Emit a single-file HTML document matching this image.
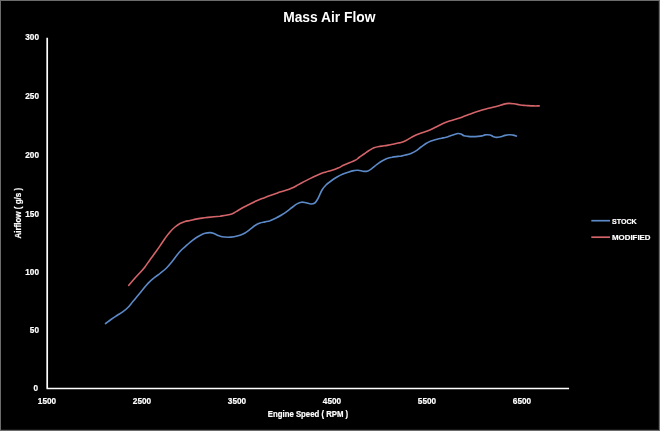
<!DOCTYPE html>
<html><head><meta charset="utf-8"><title>Mass Air Flow</title>
<style>
html,body{margin:0;padding:0;background:#000;}
body{width:660px;height:431px;position:relative;overflow:hidden;font-family:"Liberation Sans",sans-serif;color:#fff;font-weight:bold;}
#frame{position:absolute;left:0;top:0;width:660px;height:431px;box-sizing:border-box;border:1px solid #6c6c6c;box-shadow:inset -1px -1px 0 #161616;}
.t{position:absolute;white-space:nowrap;line-height:1;-webkit-text-stroke:0.2px #fff;}
.yl{font-size:8.7px;text-align:right;width:30px;left:9.2px;transform:scaleX(0.945);transform-origin:100% 50%;}
.xl{font-size:8.7px;text-align:center;width:40px;transform:scaleX(0.945);}
svg{position:absolute;left:0;top:0;}
</style></head><body>
<div id="frame"></div>
<div class="t" id="title" style="left:229.3px;width:200px;text-align:center;top:10.5px;font-size:13.8px;-webkit-text-stroke:0;">Mass Air Flow</div>
<div class="t yl" style="top:33.40px">300</div>
<div class="t yl" style="top:91.85px">250</div>
<div class="t yl" style="top:151.1px">200</div>
<div class="t yl" style="top:209.7px">150</div>
<div class="t yl" style="top:268.0px">100</div>
<div class="t yl" style="top:325.65px">50</div>
<div class="t yl" style="top:384.2px;left:7.9px">0</div>
<div class="t xl" style="left:26.7px;top:396.7px">1500</div>
<div class="t xl" style="left:122.4px;top:396.7px">2500</div>
<div class="t xl" style="left:217.3px;top:396.7px">3500</div>
<div class="t xl" style="left:312.1px;top:396.7px">4500</div>
<div class="t xl" style="left:406.9px;top:396.7px">5500</div>
<div class="t xl" style="left:501.7px;top:396.7px">6500</div>
<div class="t" id="xt" style="left:208.3px;width:200px;text-align:center;top:410.3px;font-size:8.3px;transform:scaleX(0.937);">Engine Speed ( RPM )</div>
<div class="t" id="yt" style="left:-81.7px;width:200px;text-align:center;top:208.9px;font-size:8.4px;transform:rotate(-90deg) scaleX(0.958);transform-origin:50% 50%;">Airflow ( g/s )</div>
<div class="t" id="l1" style="left:611.8px;top:217.7px;font-size:8px;transform:scaleX(0.885);transform-origin:0 0;">STOCK</div>
<div class="t" id="l2" style="left:611.8px;top:233.7px;font-size:8px;transform:scaleX(0.985);transform-origin:0 0;">MODIFIED</div>
<svg width="660" height="431" viewBox="0 0 660 431" fill="none">
<path d="M47.2 37.8V388.5H569.1" stroke="#fff" stroke-width="1.7" stroke-linejoin="round"/>
<line x1="591.3" y1="220.7" x2="610" y2="220.7" stroke="#5c89c7" stroke-width="1.7"/>
<line x1="591.3" y1="237.2" x2="610" y2="237.2" stroke="#d4646a" stroke-width="1.7"/>
<path id="blue" stroke="#5c89c7" stroke-width="1.6" stroke-linecap="round" stroke-linejoin="round" d="M105.5 323.6C106.4 322.9 109.1 320.9 111.0 319.5C112.9 318.1 115.0 316.8 117.0 315.5C119.0 314.2 121.2 313.0 123.0 311.7C124.8 310.4 126.2 309.2 127.9 307.5C129.6 305.8 131.2 303.6 132.9 301.6C134.6 299.6 136.4 297.3 137.9 295.5C139.4 293.7 140.3 292.6 142.0 290.6C143.7 288.6 146.0 285.5 148.0 283.4C150.0 281.3 152.0 279.5 154.0 277.9C156.0 276.2 158.0 275.1 160.0 273.5C162.0 271.9 164.2 270.2 166.0 268.5C167.8 266.8 169.2 265.0 170.9 263.0C172.6 261.0 174.2 258.6 175.9 256.5C177.6 254.4 179.4 252.1 180.9 250.5C182.4 248.9 183.4 248.2 184.9 246.9C186.4 245.6 188.3 243.8 190.0 242.4C191.7 241.0 193.3 239.7 195.0 238.5C196.7 237.3 198.3 236.4 200.0 235.5C201.7 234.6 203.3 233.8 205.0 233.3C206.7 232.8 208.5 232.6 210.0 232.6C211.5 232.6 212.7 233.0 214.0 233.5C215.3 234.0 216.7 234.8 218.0 235.4C219.3 236.0 220.3 236.5 222.0 236.8C223.7 237.1 226.0 237.2 228.0 237.2C230.0 237.2 232.0 237.0 234.0 236.7C236.0 236.4 238.2 235.9 240.0 235.3C241.8 234.7 243.3 234.0 245.0 233.0C246.7 232.0 248.3 230.7 250.0 229.4C251.7 228.2 253.3 226.6 255.0 225.5C256.7 224.4 258.3 223.6 260.0 223.0C261.7 222.4 263.3 222.3 265.0 221.9C266.7 221.5 268.2 221.3 270.0 220.7C271.8 220.0 274.1 218.9 276.0 218.0C277.9 217.1 279.7 216.1 281.5 215.0C283.3 213.9 285.2 212.7 287.0 211.4C288.8 210.2 290.3 208.8 292.0 207.5C293.7 206.2 295.4 204.8 297.0 203.9C298.6 203.0 299.9 202.4 301.4 202.2C302.9 202.0 304.4 202.5 306.0 202.8C307.6 203.1 309.5 204.0 311.0 204.0C312.5 204.0 313.6 203.9 314.8 203.0C316.0 202.1 316.8 200.7 318.0 198.5C319.2 196.3 320.7 192.2 322.0 190.0C323.3 187.8 324.5 186.5 326.0 185.0C327.5 183.5 329.2 182.3 331.0 181.0C332.8 179.7 335.0 178.2 337.0 177.0C339.0 175.8 341.0 174.8 343.0 174.0C345.0 173.2 347.2 172.5 349.0 171.9C350.8 171.3 352.5 170.9 354.0 170.6C355.5 170.3 356.3 170.1 358.0 170.2C359.7 170.3 362.3 171.3 364.0 171.4C365.7 171.5 366.7 171.4 368.0 170.9C369.3 170.4 370.5 169.5 372.0 168.4C373.5 167.3 375.3 165.6 377.0 164.4C378.7 163.2 380.3 162.0 382.0 161.0C383.7 160.0 385.3 159.1 387.0 158.5C388.7 157.9 390.2 157.5 392.0 157.2C393.8 156.8 396.5 156.6 398.0 156.4C399.5 156.2 399.7 156.3 401.0 156.1C402.3 155.8 404.3 155.3 406.0 154.9C407.7 154.5 409.3 154.1 411.0 153.4C412.7 152.7 414.3 152.0 416.0 150.9C417.7 149.8 419.3 148.2 421.0 147.0C422.7 145.8 424.3 144.5 426.0 143.5C427.7 142.5 429.3 141.7 431.0 141.0C432.7 140.3 434.5 139.9 436.0 139.5C437.5 139.1 438.8 138.8 440.0 138.5C441.2 138.2 441.7 138.2 443.0 137.9C444.3 137.6 446.3 137.2 448.0 136.7C449.7 136.2 451.3 135.4 453.0 134.9C454.7 134.4 456.7 133.7 458.0 133.5C459.3 133.3 460.0 133.6 461.0 134.0C462.0 134.4 462.8 135.3 464.0 135.7C465.2 136.1 466.5 136.2 468.0 136.4C469.5 136.6 471.3 136.6 473.0 136.6C474.7 136.6 476.5 136.5 478.0 136.4C479.5 136.3 480.8 136.2 482.0 135.9C483.2 135.7 483.7 135.1 485.0 134.9C486.3 134.8 488.7 134.8 490.0 135.0C491.3 135.2 491.9 136.0 493.0 136.4C494.1 136.8 495.2 137.4 496.5 137.4C497.8 137.4 499.6 137.0 501.0 136.7C502.4 136.4 503.7 135.7 505.0 135.4C506.3 135.1 507.7 134.8 509.0 134.7C510.3 134.6 511.8 134.9 513.0 135.1C514.2 135.3 515.8 135.9 516.4 136.1"/>
<path id="red" stroke="#d4646a" stroke-width="1.6" stroke-linecap="round" stroke-linejoin="round" d="M128.8 285.3C129.8 284.1 132.9 280.5 134.8 278.3C136.7 276.1 138.7 274.2 140.4 272.3C142.1 270.4 143.6 268.7 145.1 266.7C146.6 264.7 148.3 262.1 149.7 260.2C151.1 258.2 151.8 257.4 153.5 255.0C155.2 252.6 158.1 248.7 160.0 245.9C161.9 243.1 163.3 240.7 165.0 238.4C166.7 236.1 168.3 233.9 170.0 232.0C171.7 230.1 173.3 228.4 175.0 227.0C176.7 225.6 178.3 224.4 180.0 223.5C181.7 222.6 183.3 222.0 185.0 221.5C186.7 221.0 188.2 220.9 190.0 220.5C191.8 220.1 194.0 219.5 196.0 219.1C198.0 218.7 200.0 218.4 202.0 218.1C204.0 217.8 206.0 217.6 208.0 217.4C210.0 217.2 212.0 217.0 214.0 216.8C216.0 216.6 218.0 216.4 220.0 216.2C222.0 215.9 224.2 215.6 226.0 215.3C227.8 215.0 229.6 214.6 231.0 214.2C232.4 213.8 233.1 213.4 234.3 212.8C235.5 212.2 236.4 211.5 238.0 210.5C239.6 209.5 242.0 208.1 244.0 207.0C246.0 205.9 248.0 205.0 250.0 204.0C252.0 203.0 254.0 202.0 256.0 201.1C258.0 200.2 260.0 199.4 262.0 198.6C264.0 197.8 265.7 197.2 268.0 196.3C270.3 195.5 274.0 194.2 276.0 193.5C278.0 192.8 278.3 192.5 280.0 192.0C281.7 191.5 284.0 191.0 286.0 190.3C288.0 189.7 290.0 189.0 292.0 188.1C294.0 187.2 296.0 186.0 298.0 184.9C300.0 183.8 302.0 182.7 304.0 181.6C306.0 180.5 307.3 179.9 310.0 178.6C312.7 177.3 317.3 175.1 320.0 174.0C322.7 172.9 324.0 172.6 326.0 172.0C328.0 171.4 330.0 171.0 332.0 170.3C334.0 169.7 336.0 169.0 338.0 168.1C340.0 167.2 342.0 166.0 344.0 165.1C346.0 164.2 348.0 163.4 350.0 162.5C352.0 161.6 354.5 160.7 356.0 159.9C357.5 159.1 357.7 158.5 359.0 157.5C360.3 156.5 362.3 155.2 364.0 154.0C365.7 152.8 367.3 151.5 369.0 150.5C370.7 149.5 372.3 148.5 374.0 147.8C375.7 147.1 377.3 146.8 379.0 146.5C380.7 146.2 382.3 146.1 384.0 145.8C385.7 145.6 387.3 145.3 389.0 145.0C390.7 144.7 392.5 144.3 394.0 144.0C395.5 143.7 396.8 143.2 398.0 143.0C399.2 142.8 399.7 142.9 401.0 142.5C402.3 142.1 404.3 141.3 406.0 140.5C407.7 139.7 409.3 138.5 411.0 137.6C412.7 136.7 414.2 135.8 416.0 135.0C417.8 134.2 420.0 133.5 422.0 132.8C424.0 132.1 426.0 131.6 428.0 130.8C430.0 130.0 432.0 129.0 434.0 128.0C436.0 127.0 438.5 125.8 440.0 125.0C441.5 124.2 441.7 124.1 443.0 123.5C444.3 122.9 446.3 122.1 448.0 121.5C449.7 120.9 451.3 120.5 453.0 120.0C454.7 119.5 456.3 119.0 458.0 118.5C459.7 118.0 461.3 117.4 463.0 116.8C464.7 116.2 466.3 115.4 468.0 114.8C469.7 114.2 471.3 113.6 473.0 113.0C474.7 112.4 476.5 111.8 478.0 111.3C479.5 110.8 480.7 110.5 482.0 110.1C483.3 109.7 484.3 109.4 486.0 109.0C487.7 108.6 490.0 108.0 492.0 107.5C494.0 107.0 496.0 106.6 498.0 106.0C500.0 105.4 502.2 104.5 504.0 104.1C505.8 103.7 507.3 103.5 509.0 103.4C510.7 103.4 512.3 103.6 514.0 103.8C515.7 104.0 517.3 104.4 519.0 104.7C520.7 105.0 522.6 105.2 524.0 105.4C525.4 105.6 525.8 105.5 527.3 105.6C528.8 105.7 531.3 105.9 533.3 105.9C535.3 106.0 538.2 105.9 539.2 105.9"/>
</svg>
</body></html>
